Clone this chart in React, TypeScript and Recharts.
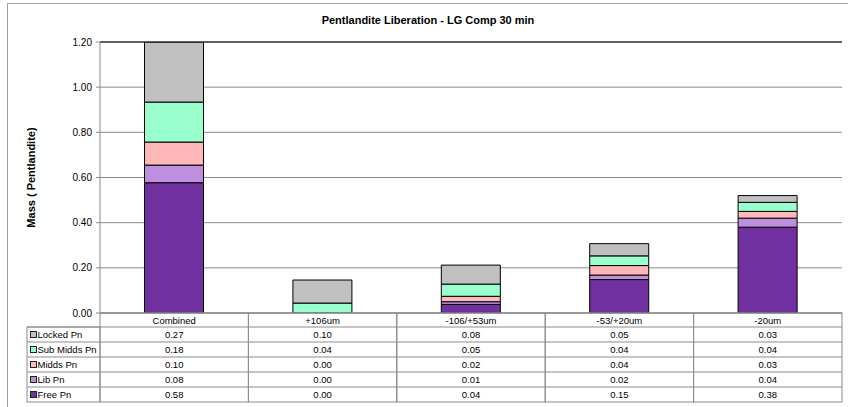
import { Bar, BarChart, CartesianGrid, Label, ReferenceLine, XAxis, YAxis } from "recharts";

const categories = ["Combined", "+106um", "-106/+53um", "-53/+20um", "-20um"];

// stacked bottom -> top; bars, table shows them rounded to 2 dp
const freePn = [0.577, 0.0, 0.038, 0.148, 0.38];
const libPn = [0.078, 0.0, 0.012, 0.02, 0.04];
const middsPn = [0.102, 0.0, 0.024, 0.042, 0.03];
const subMiddsPn = [0.177, 0.044, 0.054, 0.043, 0.04];
const lockedPn = [0.27, 0.102, 0.084, 0.054, 0.03];

const yTicks = [0, 0.2, 0.4, 0.6, 0.8, 1.0, 1.2];

const series = [
  { key: "free", name: "Free Pn", values: freePn, color: "#7030A0" },
  { key: "lib", name: "Lib Pn", values: libPn, color: "#BF8FDF" },
  { key: "midds", name: "Midds Pn", values: middsPn, color: "#FFB8B8" },
  { key: "sub", name: "Sub Midds Pn", values: subMiddsPn, color: "#99FFCC" },
  { key: "locked", name: "Locked Pn", values: lockedPn, color: "#C0C0C0" },
];

const data = categories.map((cat, i) => {
  const row: Record<string, string | number> = { cat };
  series.forEach((s) => (row[s.key] = s.values[i]));
  return row;
});

const W = 848;
const H = 407;
const M = { top: 42, right: 6, bottom: 5, left: 0 };
const Y_W = 100;
const COL_W = (W - Y_W - M.right) / categories.length;
const HEAD_H = 14;
const ROW_H = 15;
const TABLE_H = HEAD_H + ROW_H * series.length;
const LEGEND_W = 73;
const FONT = "Arial, 'Liberation Sans', sans-serif";
const GRID = "#8c8c8c";

// table rows are listed top-down: Locked first, Free last
const tableRows = [...series].reverse();

// each x-axis tick draws one column of the data table under its bar
function TableColumn(props: any) {
  const { x, y, payload, index } = props;
  const left = x - COL_W / 2;
  const i = categories.indexOf(payload.value);
  return (
    <g fontFamily={FONT} fontSize={9.5} fill="#000">
      <rect x={left} y={y} width={COL_W} height={TABLE_H} fill="none" stroke={GRID} />
      <text x={x} y={y + HEAD_H / 2 + 3.5} textAnchor="middle">
        {payload.value}
      </text>
      {tableRows.map((s, r) => {
        const top = y + HEAD_H + r * ROW_H;
        return (
          <g key={s.key}>
            <line x1={left} x2={left + COL_W} y1={top} y2={top} stroke={GRID} />
            <text x={x} y={top + ROW_H / 2 + 3.5} textAnchor="middle">
              {s.values[i].toFixed(2)}
            </text>
          </g>
        );
      })}
      {index === 0 && (
        <g>
          <rect
            x={left - LEGEND_W}
            y={y + HEAD_H}
            width={LEGEND_W}
            height={ROW_H * series.length}
            fill="none"
            stroke={GRID}
          />
          {tableRows.map((s, r) => {
            const top = y + HEAD_H + r * ROW_H;
            return (
              <g key={s.key}>
                <line x1={left - LEGEND_W} x2={left} y1={top} y2={top} stroke={GRID} />
                <rect
                  x={left - LEGEND_W + 3.5}
                  y={top + ROW_H / 2 - 3}
                  width={6}
                  height={6}
                  fill={s.color}
                  stroke="#222"
                  strokeWidth={1}
                />
                <text x={left - LEGEND_W + 10.5} y={top + ROW_H / 2 + 3.5} textAnchor="start">
                  {s.name}
                </text>
              </g>
            );
          })}
        </g>
      )}
    </g>
  );
}

export default function App() {
  return (
    <div
      style={{
        position: "absolute",
        left: 0,
        top: 0,
        width: W,
        height: H,
        overflow: "hidden",
        background: "#fff",
        fontFamily: FONT,
      }}
    >
      {/* outer chart frame */}
      <div
        style={{
          position: "absolute",
          left: 7,
          top: 3,
          width: W,
          height: H,
          border: "1px solid #a0a0a0",
        }}
      />
      <div
        style={{
          position: "absolute",
          left: 0,
          width: W,
          top: 14,
          textAlign: "center",
          fontSize: 11,
          fontWeight: "bold",
          paddingLeft: 4,
        }}
      >
        Pentlandite Liberation - LG Comp 30 min
      </div>
      <BarChart
        width={W}
        height={H}
        data={data}
        margin={M}
        barCategoryGap="30%"
        style={{ position: "absolute", left: 0, top: 0 }}
      >
        <CartesianGrid horizontal vertical={false} stroke={GRID} />
        <XAxis
          dataKey="cat"
          height={TABLE_H}
          tickLine={false}
          tickSize={0}
          tickMargin={0}
          axisLine={{ stroke: GRID }}
          tick={<TableColumn />}
          interval={0}
        />
        <YAxis
          width={Y_W}
          domain={[0, 1.2]}
          ticks={yTicks}
          allowDataOverflow
          tickFormatter={(v: number) => v.toFixed(2)}
          tick={{ fill: "#000", fontSize: 10, fontFamily: FONT }}
          tickSize={4}
          tickMargin={4}
          axisLine={{ stroke: GRID }}
          tickLine={{ stroke: GRID }}
        >
          <Label
            content={(p: any) => {
              const vb = p.viewBox;
              const cx = 31;
              const cy = vb.y + vb.height / 2;
              return (
                <text
                  x={cx}
                  y={cy}
                  transform={`rotate(-90 ${cx} ${cy})`}
                  textAnchor="middle"
                  dominantBaseline="central"
                  fontSize={11}
                  fontWeight="bold"
                  fontFamily={FONT}
                  fill="#000"
                >
                  Mass ( Pentlandite)
                </text>
              );
            }}
          />
        </YAxis>
        <YAxis
          yAxisId="right"
          orientation="right"
          width={0}
          tick={false}
          tickLine={false}
          axisLine={{ stroke: "#505050" }}
          domain={[0, 1.2]}
        />
        {series.map((s) => (
          <Bar
            key={s.key}
            dataKey={s.key}
            name={s.name}
            stackId="a"
            fill={s.color}
            stroke="#000"
            strokeWidth={1}
            isAnimationActive={false}
          />
        ))}
        <ReferenceLine y={1.2} stroke="#000" strokeWidth={1} />
      </BarChart>
    </div>
  );
}
